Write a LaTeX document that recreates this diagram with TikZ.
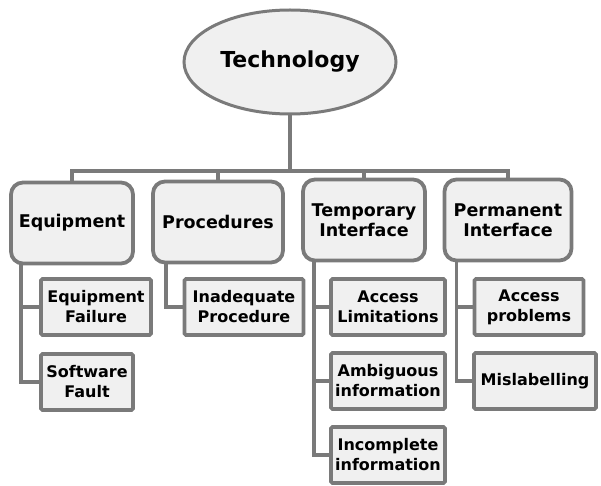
\documentclass[tikz,border=0pt]{standalone}
\usepackage{fontspec}
\setmainfont{DejaVu Sans}
\usepackage{tikz,tkz-graph}
\usetikzlibrary{shapes.geometric}
\definecolor{lineGray}{RGB}{122,122,122}
\definecolor{boxFill}{RGB}{240,240,240}
\tikzstyle{rootStyle}=[shape = ellipse, minimum width = 212pt, minimum height = 104pt, inner sep = 0pt, draw = lineGray, line width = 3pt, fill = boxFill, font = \bfseries\fontsize{22}{25}\selectfont]
\tikzstyle{groupStyle}=[shape = rectangle, rounded corners = 12pt, minimum height = 81pt, inner sep = 0pt, draw = lineGray, line width = 3.8pt, fill = boxFill, align = center, font = \bfseries\fontsize{17.5}{20}\selectfont]
\tikzstyle{causeStyle}=[shape = rectangle, rounded corners = 1.5pt, minimum height = 56pt, inner sep = 0pt, draw = lineGray, line width = 3.8pt, fill = boxFill, align = center, font = \bfseries\fontsize{16}{20}\selectfont]
\tikzstyle{linkStyle}=[draw = lineGray, line width = 3.2pt]

\begin{document}
\begin{tikzpicture}[x = 1pt, y = -1pt]
\tikzstyle{VertexStyle} = []
\fill[white] (0,0) rectangle (601,486);
\useasboundingbox (0,0) rectangle (601,486);
\Vertex[style = rootStyle, x = 290, y = 62, L = {Technology}]{tech}
\Vertex[style = {groupStyle, minimum width = 122pt}, x = 72, y = 223, L = {Equipment}]{equip}
\Vertex[style = {groupStyle, minimum width = 130pt}, x = 218, y = 222, L = {Procedures}]{proc}
\Vertex[style = {groupStyle, minimum width = 122pt}, x = 364, y = 220, L = {Temporary\\Interface}]{temp}
\Vertex[style = {groupStyle, minimum width = 127pt}, x = 508, y = 220, L = {Permanent\\Interface}]{perm}
\Vertex[style = {causeStyle, minimum width = 110pt}, x = 96, y = 307, L = {Equipment\\Failure}]{eqFail}
\Vertex[style = {causeStyle, minimum width = 92pt}, x = 87, y = 382, L = {Software\\Fault}]{swFault}
\Vertex[style = {causeStyle, minimum width = 119pt}, x = 244, y = 307, L = {Inadequate\\Procedure}]{inProc}
\Vertex[style = {causeStyle, minimum width = 114pt}, x = 388, y = 307, L = {Access\\Limitations}]{accLim}
\Vertex[style = {causeStyle, minimum width = 114pt}, x = 388, y = 381, L = {Ambiguous\\information}]{ambInfo}
\Vertex[style = {causeStyle, minimum width = 114pt}, x = 388, y = 455, L = {Incomplete\\information}]{incInfo}
\Vertex[style = {causeStyle, minimum width = 109pt}, x = 529, y = 307, L = {Access\\problems}]{accProb}
\Vertex[style = {causeStyle, minimum width = 122pt}, x = 535, y = 381, L = {Mislabelling}]{misLab}
% bus under the root
\coordinate (bus) at (290,171);
\draw[linkStyle] (tech) -- (bus);
\draw[linkStyle] (equip) |- (bus) -| (perm);
\draw[linkStyle] (proc) -- (proc |- bus);
\draw[linkStyle] (temp) -- (temp |- bus);
% branches down the left side of each group
\draw[linkStyle] ([xshift = 10pt]equip.south west) |- (swFault.west);
\draw[linkStyle] ([xshift = 10pt]equip.south west) |- (eqFail.west);
\draw[linkStyle] ([xshift = 13pt]proc.south west) |- (inProc.west);
\draw[linkStyle] ([xshift = 11pt]temp.south west) |- (incInfo.west);
\draw[linkStyle] ([xshift = 11pt]temp.south west) |- (ambInfo.west);
\draw[linkStyle] ([xshift = 11pt]temp.south west) |- (accLim.west);
\draw[linkStyle] ([xshift = 12pt]perm.south west) |- (misLab.west);
\draw[linkStyle] ([xshift = 12pt]perm.south west) |- (accProb.west);
\end{tikzpicture}
\end{document}
